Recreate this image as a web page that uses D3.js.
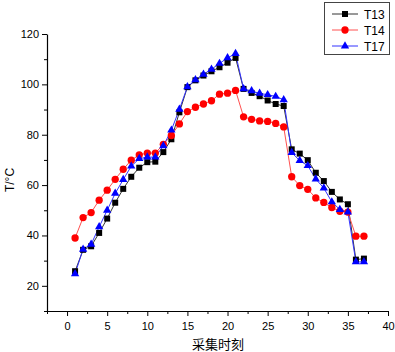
<!DOCTYPE html>
<html>
<head>
<meta charset="utf-8">
<script src="https://cdn.jsdelivr.net/npm/d3@7"></script>
<style>
  body { margin: 0; background: #fff; }
  svg { display: block; }
  .tick text { font-family: "Liberation Sans", Arial, sans-serif; font-size: 11px; }
</style>
</head>
<body>
<div id="chart"></div>
<script>
// 采集时刻 1..37
const times = d3.range(1, 38);

const t13 = [25.8, 34.3, 35.7, 41, 46.7, 53, 58.5, 63.3, 66.9, 69.1, 69.3, 73.1, 78.2, 88.9, 98.9, 101.6, 103.5, 105.2, 106.8, 108.6, 110.5,
  98.2, 96.6, 95.3, 93.6, 92.2, 91.4, 74.2, 72.5, 69.9, 64.9, 61.6, 57.3, 54.3, 52.4, 30.4, 30.8];
const t14 = [39, 47.1, 49.1, 54, 58, 62.3, 66.3, 69.9, 72, 72.7, 72.7, 76.2, 79.7, 84.3, 89.2, 90.9, 92.2, 93.5, 96.1, 96.5, 97.6,
  87.1, 86.1, 85.5, 85.3, 84.5, 83.1, 63.3, 59.8, 58.3, 54.9, 53.1, 51.1, 49.6, 49.3, 39.7, 39.7];
const t17 = [24.8, 34.5, 36.5, 43.4, 50, 56.7, 62.2, 67.5, 70.5, 71.1, 71.1, 75.6, 81.8, 90.1, 99, 101.8, 104, 106, 108.3, 110.5, 112.2,
  98.2, 97.4, 96.4, 95.9, 95.2, 93.9, 72.9, 69.7, 67.7, 62.4, 58.8, 53.3, 50.3, 49.3, 29.5, 29.5];

const seriesNames = ["T13", "T14", "T17"];
const xTicks = [0, 5, 10, 15, 20, 25, 30, 35, 40];
const yTicks = [20, 40, 60, 80, 100, 120];

const series = [
  { name: "T13", values: t13, color: "#000000", line: "#333333", symbol: d3.symbolSquare, size: 36 },
  { name: "T14", values: t14, color: "#ff0000", line: "#ff5050", symbol: d3.symbolCircle, size: 42 },
  { name: "T17", values: t17, color: "#0000ff", line: "#3333ff", symbol: d3.symbolTriangle, size: 30 }
];

const width = 395, height = 352;
const margin = { top: 34, right: 7, bottom: 41, left: 47 };

const svg = d3.select("#chart").append("svg")
  .attr("width", width)
  .attr("height", height);

const x = d3.scaleLinear().domain([-2.5, 40]).range([margin.left, width - margin.right]);
const y = d3.scaleLinear().domain([10, 120]).range([height - margin.bottom, margin.top]);

// minor ticks
svg.append("g")
  .attr("transform", `translate(0,${height - margin.bottom})`)
  .call(d3.axisBottom(x).tickValues(d3.range(-2.5, 40.1, 5)).tickSize(3).tickFormat(""))
  .call(g => g.select(".domain").remove());
svg.append("g")
  .attr("transform", `translate(${margin.left},0)`)
  .call(d3.axisLeft(y).tickValues(d3.range(10, 121, 20)).tickSize(3).tickFormat(""))
  .call(g => g.select(".domain").remove());

// X axis
svg.append("g")
  .attr("transform", `translate(0,${height - margin.bottom})`)
  .call(d3.axisBottom(x).tickValues(xTicks).tickSize(5).tickSizeOuter(0).tickPadding(6))
  .call(g => g.select(".domain").attr("stroke-width", 1.2));

// Y axis
svg.append("g")
  .attr("transform", `translate(${margin.left},0)`)
  .call(d3.axisLeft(y).tickValues(yTicks).tickSize(5).tickSizeOuter(0).tickPadding(3))
  .call(g => g.select(".domain").attr("stroke-width", 1.2));

// axis labels
svg.append("text")
  .attr("x", 218).attr("y", 349)
  .attr("text-anchor", "middle")
  .style("font-family", "'Noto Sans CJK SC', sans-serif")
  .style("font-size", "13px")
  .text("采集时刻");

svg.append("text")
  .attr("transform", "translate(14,180) rotate(-90)")
  .attr("text-anchor", "middle")
  .style("font-family", "'Liberation Sans', Arial, sans-serif")
  .style("font-size", "12px")
  .text("T/°C");

// lines and markers
const line = d3.line().x((d, i) => x(times[i])).y(d => y(d));

series.forEach(s => {
  svg.append("path")
    .datum(s.values)
    .attr("fill", "none")
    .attr("stroke", s.line)
    .attr("stroke-width", 1)
    .attr("d", line);
});

series.forEach(s => {
  svg.append("g").selectAll("path")
    .data(s.values)
    .join("path")
    .attr("transform", (d, i) => `translate(${x(times[i])},${y(d)})`)
    .attr("d", d3.symbol().type(s.symbol).size(s.size))
    .attr("fill", s.color);
});

// legend
const legend = svg.append("g").attr("transform", "translate(324,2)");
legend.append("rect")
  .attr("x", 0.5).attr("y", 0.5)
  .attr("width", 65).attr("height", 52)
  .attr("fill", "#fff")
  .attr("stroke", "#444")
  .attr("stroke-width", 1);

series.forEach((s, i) => {
  const row = legend.append("g").attr("transform", `translate(0,${12 + i * 16})`);
  row.append("line")
    .attr("x1", 8).attr("x2", 34)
    .attr("stroke", s.line).attr("stroke-width", 1);
  row.append("path")
    .attr("transform", "translate(21,0)")
    .attr("d", d3.symbol().type(s.symbol).size(s.size))
    .attr("fill", s.color);
  row.append("text")
    .attr("x", 40).attr("y", 4.5)
    .style("font-family", "'Liberation Sans', Arial, sans-serif")
    .style("font-size", "12px")
    .text(seriesNames[i]);
});
</script>
</body>
</html>
